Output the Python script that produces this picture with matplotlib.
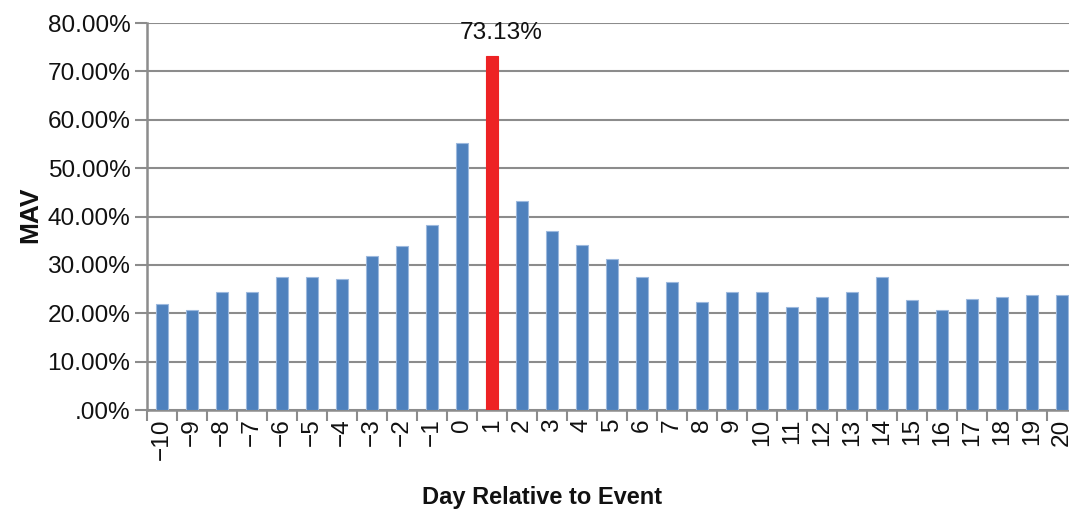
import matplotlib
matplotlib.use("Agg")
import matplotlib.pyplot as plt
import numpy as np
from matplotlib.ticker import FixedLocator

days = list(range(-10, 21))
day_labels = [("\u2212" + str(-d)) if d < 0 else str(d) for d in days]
mav = [22.0, 20.6, 24.3, 24.3, 27.4, 27.4, 27.1, 31.8, 33.8, 38.2, 55.1,
       73.13, 43.2, 36.9, 34.2, 31.2, 27.4, 26.4, 22.3, 24.3, 24.3, 21.3,
       23.4, 24.3, 27.4, 22.7, 20.6, 23.0, 23.4, 23.7, 23.7]
highlight_day = 1
y_ticks = [0, 10, 20, 30, 40, 50, 60, 70, 80]
y_tick_labels = [".00%", "10.00%", "20.00%", "30.00%", "40.00%", "50.00%",
                 "60.00%", "70.00%", "80.00%"]

plt.rcParams['font.family'] = ['Liberation Sans', 'DejaVu Sans']

W, H = 1069, 511
fig = plt.figure(figsize=(W / 100, H / 100), dpi=100)
left_px, right_px, bottom_px, top_px = 147, 1069, 410, 23
ax = fig.add_axes([left_px / W, (H - bottom_px) / H,
                   (right_px - left_px) / W, (bottom_px - top_px) / H])

x = np.arange(len(days))
colors = ['#ED2224' if d == highlight_day else '#4F81BD' for d in days]
edges = ['#ED2224' if d == highlight_day else '#9DB9DE' for d in days]
ax.bar(x, mav, width=0.4, color=colors, edgecolor=edges, linewidth=0.8, zorder=3)

cat_w = 30.0
ax.set_xlim(-0.5, -0.5 + (right_px - left_px) / cat_w)
ax.set_ylim(0, 80)

ax.set_yticks(y_ticks)
ax.set_yticklabels(y_tick_labels, fontsize=17.6, color='#111111')
ax.set_xticks(x)
ax.set_xticklabels(day_labels, rotation=90, fontsize=17.6, color='#111111')
ax.tick_params(axis='x', which='major', length=0, pad=6)
ax.xaxis.set_minor_locator(FixedLocator(np.arange(-0.5, len(days) + 0.5, 1)))
ax.tick_params(axis='x', which='minor', length=8, width=1.5, color='#8C8C8C')
ax.tick_params(axis='y', length=9, width=1.5, color='#8C8C8C', pad=3)

ax.grid(axis='y', color='#8C8C8C', linewidth=1.5, zorder=0)
ax.set_axisbelow(True)
for s in ['top', 'right']:
    ax.spines[s].set_visible(False)
for s in ['left', 'bottom']:
    ax.spines[s].set_color('#8C8C8C')
    ax.spines[s].set_linewidth(1.8)

hi = days.index(highlight_day)
ax.annotate(f"{mav[hi]:.2f}%", xy=(x[hi], mav[hi]), xytext=(9, 12),
            textcoords='offset pixels', ha='center', va='bottom',
            fontsize=17.6, color='#111111')

fig.text(30 / W, 1 - 215 / H, "MAV", rotation=90, ha='center', va='center',
         fontsize=19, fontweight='bold', color='#111111')
fig.text(542 / W, 1 - 497 / H, "Day Relative to Event", ha='center', va='center',
         fontsize=17, fontweight='bold', color='#111111')

fig.savefig("out.png", dpi=100)
